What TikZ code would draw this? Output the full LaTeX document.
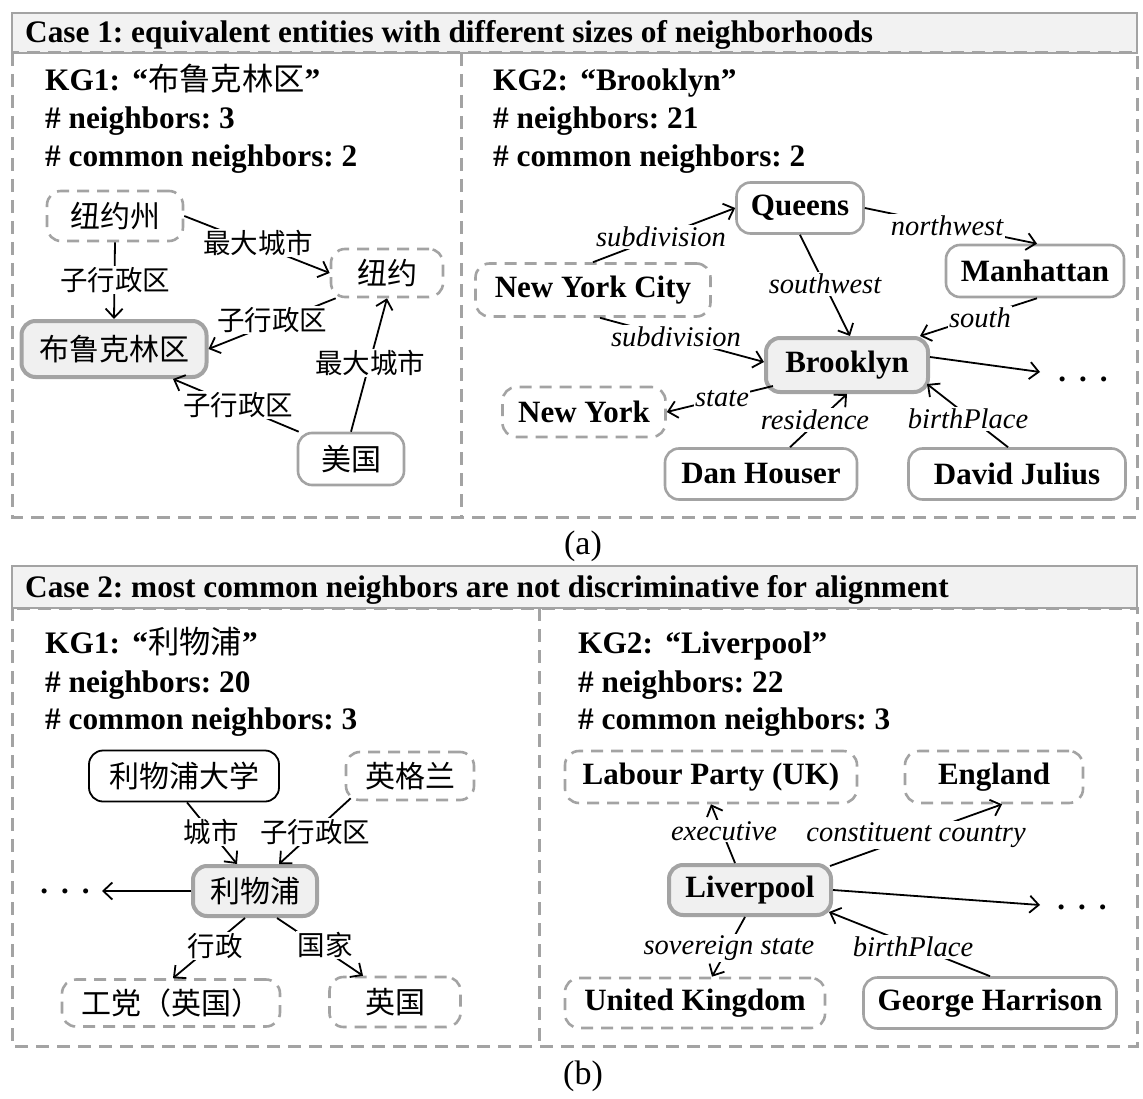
\documentclass[tikz,border=0pt]{standalone}
\usepackage{fontspec}
\setmainfont{Liberation Serif}
\newfontfamily\cjk{Noto Sans CJK SC}
\usetikzlibrary{arrows.meta}
\definecolor{gbord}{HTML}{A3A3A3}
\definecolor{hfill}{HTML}{F2F2F2}
\definecolor{mfill}{HTML}{F0F0F0}
\newcommand\fs[1]{\fontsize{#1}{#1}\selectfont}
\frenchspacing
\begin{document}
\begin{tikzpicture}[x=1pt,y=-1pt,
  ent/.style={draw=gbord, line width=2.6pt, rounded corners=14pt, fill=white,
    font=\bfseries\fs{31}, inner sep=0pt, minimum width=#1},
  ent/.default=100pt,
  entd/.style={ent=#1, dash pattern=on 12pt off 8pt},
  entd/.default=100pt,
  entm/.style={ent=#1, fill=mfill, line width=4pt},
  entm/.default=100pt,
  entk/.style={ent=#1, draw=black, line width=1.8pt},
  entk/.default=100pt,
  cj/.style={font=\cjk\fs{30}},
  rel/.style={font=\itshape\fs{28.5}, fill=white, inner sep=1.5pt},
  relc/.style={font=\cjk\fs{27.5}, fill=white, inner sep=1.5pt},
  conn/.style={line width=1.8pt, -{Straight Barb[length=9pt,width=17pt]}},
  info/.style={anchor=base west, font=\bfseries\fs{31.3}, inner sep=0pt},
  hdr/.style={draw=gbord, line width=2.5pt, fill=hfill},
  panel/.style={draw=gbord, line width=3pt, dash pattern=on 13pt off 8pt},
  dotsn/.style={anchor=base, font=\bfseries\fs{31}, inner sep=0pt},
]
\useasboundingbox (0,0) rectangle (1143,1099);

% ---------------- (a) ----------------
\draw[hdr] (12,13) rectangle (1137,53);
\node[info] (t1) at (25,43) {Case 1: equivalent entities with different sizes of neighborhoods};
\draw[panel] (12,53) rectangle (1137,517);
\draw[panel] (461,53) -- (461,517);

\node[info] (a1) at (45,91) {KG1:\hspace{0.4em}“{\cjk\mdseries 布鲁克林区}”};
\node[info] (a2) at (45,129) {\# neighbors: 3};
\node[info] (a3) at (45,167) {\# common neighbors: 2};
\node[info] (b1) at (493,91) {KG2:\hspace{0.4em}“Brooklyn”};
\node[info] (b2) at (493,129) {\# neighbors: 21};
\node[info] (b3) at (493,167) {\# common neighbors: 2};

% KG1 graph
\node[entd=136pt, minimum height=50pt, cj] (zhou) at (115,216) {纽约州};
\node[entd=112pt, minimum height=48pt, cj] (ny) at (387,273) {纽约};
\node[entm=185pt, minimum height=56pt, cj] (bk) at (114,349) {布鲁克林区};
\node[ent=106pt, minimum height=52pt, cj] (us) at (351,459) {美国};

\draw[conn] (zhou.south) -- (bk.north);
\draw[conn] (zhou.east) -- (ny.west);
\draw[conn] ([xshift=6pt]ny.south west) -- (bk.east);
\draw[conn] ([xshift=2pt]us.north west) -- ([xshift=59pt]bk.south);
\draw[conn] (us.north) -- (ny.south);

\node[relc] (l1) at (115,280) {子行政区};
\node[relc] (l2) at (258,243) {最大城市};
\node[relc] (l3) at (272,320) {子行政区};
\node[relc] (l4) at (238,405) {子行政区};
\node[relc] (l5) at (370,363) {最大城市};

% KG2 graph
\node[ent=127pt, minimum height=51pt] (queens) at (800,208) {Queens};
\node[ent=178pt, minimum height=52pt] (manh) at (1035,271) {Manhattan};
\node[entd=235pt, minimum height=53pt] (nyc) at (593,290) {New York City};
\node[entm=162pt, minimum height=54pt] (bk2) at (847,365) {Brooklyn};
\node[entd=163pt, minimum height=50pt] (nyk) at (584,412) {New York};
\node[ent=192pt, minimum height=51pt] (dan) at (761,474) {Dan Houser};
\node[ent=217pt, minimum height=51pt] (david) at (1017,474) {David Julius};
\node[dotsn] (dots2) at (1083,381) {.\hspace{0.42em}.\hspace{0.42em}.};
\coordinate (tip2) at (1040,372);

\draw[conn] (nyc.north) -- (queens.west);
\draw[conn] ([xshift=7pt]nyc.south) -- ([yshift=3pt]bk2.west);
\draw[conn] (queens.south) -- ([xshift=3pt]bk2.north);
\draw[conn] (queens.east) -- ([xshift=2pt]manh.north);
\draw[conn] ([xshift=2pt]manh.south) -- ([xshift=-10pt]bk2.north east);
\draw[conn] ([xshift=9pt,yshift=8pt]bk2.south west) -- (nyk.east);
\draw[conn] ([xshift=29pt]dan.north) -- (bk2.south);
\draw[conn] ([xshift=-9pt]david.north) -- ([xshift=-3pt,yshift=10pt]bk2.south east);
\draw[conn] ([yshift=8pt]bk2.east) -- (tip2);

\node[rel] (r1) at (661,237) {subdivision};
\node[rel] (r2) at (676,337) {subdivision};
\node[rel] (r3) at (825,284) {southwest};
\node[rel] (r4) at (947,226) {northwest};
\node[rel] (r5) at (980,318) {south};
\node[rel] (r6) at (722,399) {state};
\node[rel] (r7) at (815,420) {residence};
\node[rel] (r8) at (968,419) {birthPlace};

\node[anchor=base, font=\fs{34}, inner sep=0pt] (capa) at (583,554) {(a)};

% ---------------- (b) ----------------
\draw[hdr] (12,566) rectangle (1137,608);
\node[info] (t2) at (25,597) {Case 2: most common neighbors are not discriminative for alignment};
\draw[panel] (12,608) rectangle (1137,1046);
\draw[panel] (539,608) -- (539,1046);

\node[info] (c1) at (45,653) {KG1:\hspace{0.4em}“{\cjk\mdseries 利物浦}”};
\node[info] (c2) at (45,692) {\# neighbors: 20};
\node[info] (c3) at (45,729) {\# common neighbors: 3};
\node[info] (d1) at (578,653) {KG2:\hspace{0.4em}“Liverpool”};
\node[info] (d2) at (578,692) {\# neighbors: 22};
\node[info] (d3) at (578,729) {\# common neighbors: 3};

% KG1 graph (b)
\node[entk=190pt, minimum height=51pt, cj] (ud) at (184,776) {利物浦大学};
\node[entd=128pt, minimum height=48pt, cj] (eng1) at (410,776) {英格兰};
\node[entm=124pt, minimum height=50pt, cj] (lw) at (255,891) {利物浦};
\node[entd=218pt, minimum height=47pt, cj] (lab1) at (171,1003) {工党（英国）};
\node[entd=131pt, minimum height=50pt, cj] (uk1) at (395,1002) {英国};
\node[dotsn] (dots1) at (65,893) {.\hspace{0.42em}.\hspace{0.42em}.};
\coordinate (tip1) at (102,891);

\draw[conn] ([xshift=3pt]ud.south) -- ([xshift=-18pt]lw.north);
\draw[conn] ([xshift=6pt,yshift=3pt]eng1.south west) -- ([xshift=24pt]lw.north);
\draw[conn] ([xshift=-10pt]lw.south) -- ([xshift=2pt]lab1.north);
\draw[conn] ([xshift=22pt]lw.south) -- ([xshift=-32pt]uk1.north);
\draw[conn] (lw.west) -- (tip1);

\node[relc] (m1) at (211,832) {城市};
\node[relc] (m2) at (315,832) {子行政区};
\node[relc] (m3) at (215,946) {行政};
\node[relc] (m4) at (325,945) {国家};

% KG2 graph (b)
\node[entd=292pt, minimum height=52pt] (labour) at (711,777) {Labour Party (UK)};
\node[entd=178pt, minimum height=52pt] (eng) at (994,777) {England};
\node[entm=162pt, minimum height=50pt] (lp) at (750,890) {Liverpool};
\node[entd=260pt, minimum height=50pt] (ukg) at (695,1003) {United Kingdom};
\node[ent=253pt, minimum height=51pt] (gh) at (990,1003) {George Harrison};
\node[dotsn] (dots3) at (1082,909) {.\hspace{0.42em}.\hspace{0.42em}.};
\coordinate (tip3) at (1040,905);

\draw[conn] ([xshift=-15pt]lp.north) -- (labour.south);
\draw[conn] ([xshift=-3pt,yshift=-3pt]lp.north east) -- ([xshift=8pt]eng.south);
\draw[conn] ([xshift=-5pt]lp.south) -- ([xshift=17pt]ukg.north);
\draw[conn] (gh.north) -- ([xshift=-4pt,yshift=5pt]lp.south east);
\draw[conn] (lp.east) -- (tip3);

\node[rel] (s1) at (724,831) {executive};
\node[rel] (s2) at (916,835) {constituent country};
\node[rel] (s3) at (729,948) {sovereign state};
\node[rel] (s4) at (913,947) {birthPlace};

\node[anchor=base, font=\fs{34}, inner sep=0pt] (capb) at (583,1084) {(b)};
\end{tikzpicture}
\end{document}
